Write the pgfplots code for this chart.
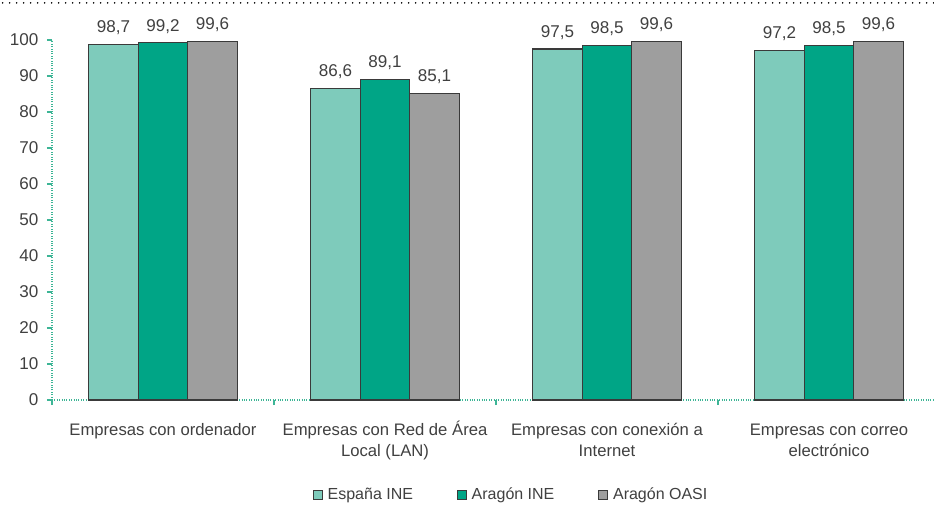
\documentclass[border=0pt]{standalone}
\usepackage{pgfplots}
\pgfplotsset{compat=1.18}
\usepackage{fontspec}
\setmainfont{Liberation Sans}

\definecolor{cEsp}{HTML}{7ECBBB}
\definecolor{cArI}{HTML}{00A586}
\definecolor{cArO}{HTML}{9E9E9E}
\definecolor{edge}{HTML}{3A3A3A}
\definecolor{txt}{HTML}{404040}
\definecolor{axc}{HTML}{3DB596}

\newcommand{\cs}{\rule{0pt}{12pt}}

\begin{document}
\begin{tikzpicture}
\begin{axis}[
    at={(0pt,0pt)}, anchor=south west,
    scale only axis,
    width=661.5pt, height=270pt,
    xmin=-0.5, xmax=3.473,
    ymin=0, ymax=100,
    ybar=0pt, bar width=37.1pt,
    axis x line*=bottom, axis y line*=left,
    axis line style={axc, densely dotted, line width=0.8pt},
    ytick={0,10,...,100},
    xtick={0,1,2,3},
    minor xtick={-0.5,0.5,1.5,2.5},
    major x tick style={draw=none},
    minor x tick style={axc, solid, line width=0.8pt},
    y tick style={axc, solid, line width=0.8pt},
    tick align=outside,
    major tick length=3.75pt,
    minor tick length=3.75pt,
    xticklabels={\cs Empresas con ordenador, \cs Empresas con Red de Área\\Local (LAN), \cs Empresas con conexión a\\Internet, \cs Empresas con correo\\electrónico},
    xticklabel style={align=center, anchor=north, font=\fontsize{12.5}{15.3}\selectfont, text=txt, yshift=-7.5pt},
    yticklabel style={font=\fontsize{12.8}{14}\selectfont, text=txt, xshift=-3pt},
    /pgf/number format/assume math mode=true,
    nodes near coords={\pgfmathprintnumber[use comma,fixed,fixed zerofill,precision=1,assume math mode=true]{\pgfplotspointmeta}},
    nodes near coords style={font=\fontsize{12.8}{14}\selectfont, text=txt, yshift=3.5pt},
    legend columns=3,
    legend style={draw=none, at={(0.521,-0.264)}, anchor=center, font=\fontsize{12}{14}\selectfont, text=txt,
        /tikz/every odd column/.append style={column sep=2pt},
        /tikz/every even column/.append style={column sep=31pt}},
    legend image code/.code={\draw[#1, draw=edge, line width=0.5pt] (0pt,-3.25pt) rectangle (6.5pt,3.25pt);},
]
\addplot[fill=cEsp, draw=edge, line width=0.8pt] coordinates {(0,98.7) (1,86.6) (2,97.5) (3,97.2)};
\addplot[fill=cArI, draw=edge, line width=0.8pt] coordinates {(0,99.2) (1,89.1) (2,98.5) (3,98.5)};
\addplot[fill=cArO, draw=edge, line width=0.8pt] coordinates {(0,99.6) (1,85.1) (2,99.6) (3,99.6)};
\legend{España INE, Aragón INE, Aragón OASI}
\end{axis}
\draw[black, line width=1.3pt, line cap=round, dash pattern=on 0pt off 5.25pt] (-37pt,297.8pt) -- (661.5pt,297.8pt);
\pgfresetboundingbox
\path[use as bounding box] (-39pt,-79.5pt) rectangle (661.5pt,300pt);
\end{tikzpicture}
\end{document}
